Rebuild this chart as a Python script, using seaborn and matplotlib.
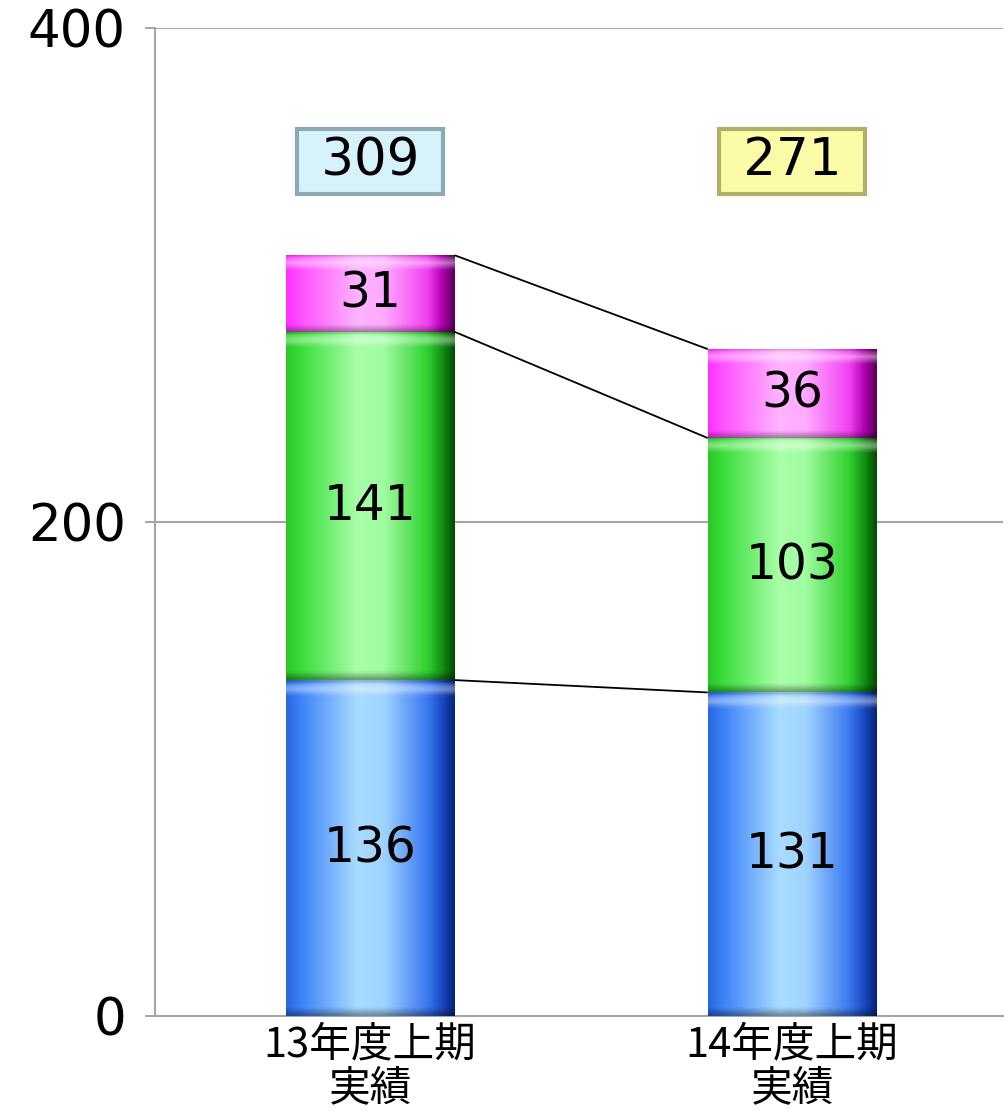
import numpy as np
import pandas as pd
import matplotlib
matplotlib.use("Agg")
import matplotlib.pyplot as plt
import seaborn as sns
from matplotlib.colors import LinearSegmentedColormap

# ---- data ----
categories = ["13年度上期\n実績", "14年度上期\n実績"]
blue_vals = [136, 131]
green_vals = [141, 103]
pink_vals = [31, 36]
total_labels = ["309", "271"]
y_ticks = [0, 200, 400]

# ---- style ----
sns.set_theme(style="white")
plt.rcParams['font.family'] = ['Noto Sans CJK JP', 'DejaVu Sans']
NUM_FONT = ['DejaVu Sans']

fig = plt.figure(figsize=(10.08, 11.16), dpi=100)
ax = fig.add_axes([0.1538, 0.0896, 0.8413, 0.8853])

cum1 = np.array(blue_vals)
cum2 = cum1 + np.array(green_vals)
cum3 = cum2 + np.array(pink_vals)

levels = ["pink", "green", "blue"]
df = pd.DataFrame({
    "category": categories * 3,
    "level": ["pink"] * 2 + ["green"] * 2 + ["blue"] * 2,
    "cum": list(cum3) + list(cum2) + list(cum1),
})
base_colors = {"pink": "#ff66ff", "green": "#55e055", "blue": "#5599f5"}
grad_stops = {
    "blue": ["#2a66e0", "#3a80f8", "#a8dcff", "#a0d4ff", "#3a78f0", "#1848c0", "#06247a"],
    "green": ["#28c828", "#38dc38", "#a8ffa8", "#a0fca0", "#30d030", "#129012", "#044c04"],
    "pink": ["#ff30ff", "#ff50ff", "#ffb4ff", "#ffaaff", "#f040f0", "#b000b0", "#580058"],
}
stop_pos = [0.0, 0.08, 0.42, 0.58, 0.84, 0.93, 1.0]

for lvl in levels:
    sub = df[df.level == lvl]
    sns.barplot(data=sub, x="category", y="cum", color=base_colors[lvl],
                width=0.4, ax=ax, linewidth=0, saturation=1, errorbar=None,
                zorder=2)

patches = ax.patches
pink_p, green_p, blue_p = patches[0:2], patches[2:4], patches[4:6]
seg_patches = {"blue": blue_p, "green": green_p, "pink": pink_p}
lower = {"blue": None, "green": "blue", "pink": "green"}

nx, ny = 200, 120
xs = np.linspace(0, 1, nx)
for lvl in ["blue", "green", "pink"]:
    cmap = LinearSegmentedColormap.from_list(lvl, list(zip(stop_pos, grad_stops[lvl])))
    row = cmap(xs)[:, :3]
    for i, p in enumerate(seg_patches[lvl]):
        x0 = p.get_x()
        x1 = x0 + p.get_width()
        top = p.get_height()
        bot = 0 if lower[lvl] is None else seg_patches[lower[lvl]][i].get_height()
        yv = np.linspace(bot, top, ny)
        img = np.tile(row[None, :, :], (ny, 1, 1)).copy()
        dtop = top - yv
        dbot = yv - bot
        hl = np.clip(1 - np.abs(dtop - 3.0) / 3.0, 0, 1) * 0.45
        img = img * (1 - hl[:, None, None]) + hl[:, None, None]
        rim = np.clip(1 - dtop / 0.9, 0, 1) * 0.15
        img = img * (1 - rim[:, None, None])
        sh = np.clip(1 - dbot / 3.0, 0, 1) * 0.35
        img = img * (1 - sh[:, None, None])
        ax.imshow(np.clip(img, 0, 1), extent=(x0, x1, bot, top), origin="lower",
                  aspect="auto", interpolation="bilinear", zorder=3)
        val = {"blue": blue_vals, "green": green_vals, "pink": pink_vals}[lvl][i]
        ax.text((x0 + x1) / 2, (bot + top) / 2, str(val), ha="center", va="center",
                fontsize=35, family=NUM_FONT, color="black", zorder=5)

# connector lines between bars
for lvl in ["blue", "green", "pink"]:
    pa, pb = seg_patches[lvl]
    ax.plot([pa.get_x() + pa.get_width(), pb.get_x()], [pa.get_height(), pb.get_height()],
            color="black", lw=1.3, zorder=4, solid_capstyle="butt")

# total boxes
box_fc = ["#d6f3fc", "#fbfba8"]
box_ec = ["#8fa9b3", "#b0b068"]
for i, lab in enumerate(total_labels):
    p = pink_p[i]
    ax.text(p.get_x() + p.get_width() / 2, 346, " " + lab + " ", ha="center", va="center",
            fontsize=37, family=NUM_FONT, color="black", zorder=6,
            bbox=dict(boxstyle="square,pad=0.15", fc=box_fc[i], ec=box_ec[i], lw=3))

ax.set_xlim(-0.51, 1.5)
ax.set_ylim(0, 400)
ax.set_yticks(y_ticks)
ax.set_yticklabels([str(v) for v in y_ticks], family=NUM_FONT, fontsize=37)
ax.set_xlabel("")
ax.set_ylabel("")
ax.yaxis.grid(True, color="#a6a6a6", lw=1.5, zorder=0)
ax.set_axisbelow(True)
for s in ["top", "right"]:
    ax.spines[s].set_visible(False)
for s in ["left", "bottom"]:
    ax.spines[s].set_color("#a6a6a6")
    ax.spines[s].set_linewidth(1.5)
ax.tick_params(axis="y", which="both", left=True, length=7, width=1.5,
               color="#a6a6a6", pad=14, labelcolor="black")
ax.tick_params(axis="x", bottom=False, pad=0, labelsize=30, labelcolor="black")
for t in ax.get_xticklabels():
    t.set_linespacing(1.12)

fig.savefig("out.png", dpi=100)
